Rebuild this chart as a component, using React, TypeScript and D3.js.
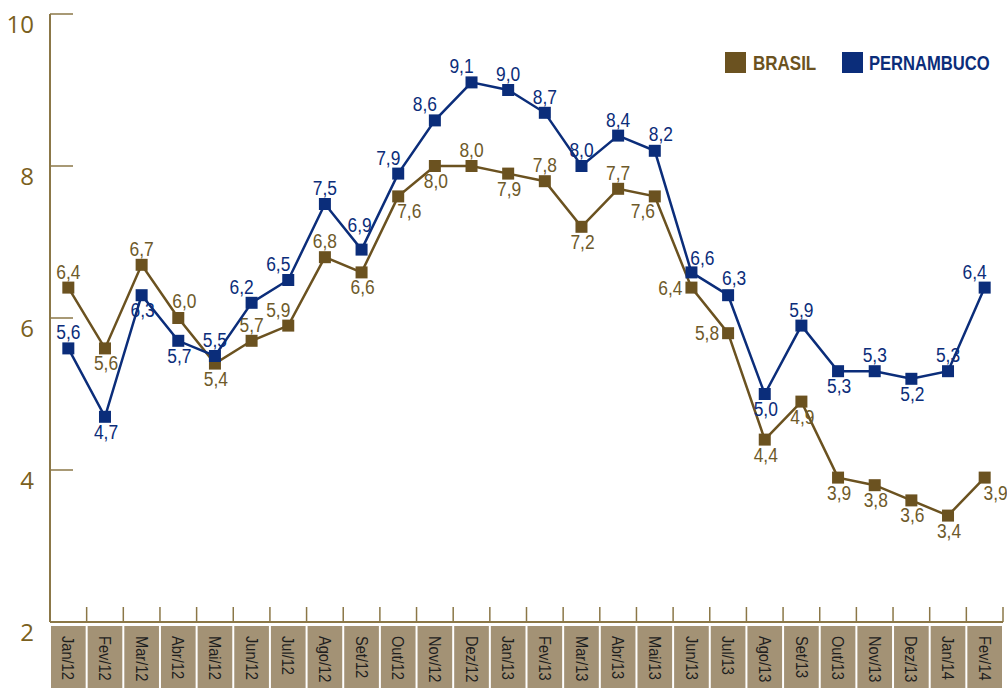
import React from "react";
import * as d3 from "d3";

const months = [
  "Jan/12", "Fev/12", "Mar/12", "Abr/12", "Mai/12", "Jun/12", "Jul/12", "Ago/12", "Set/12", "Out/12", "Nov/12", "Dez/12",
  "Jan/13", "Fev/13", "Mar/13", "Abr/13", "Mai/13", "Jun/13", "Jul/13", "Ago/13", "Set/13", "Out/13", "Nov/13", "Dez/13",
  "Jan/14", "Fev/14",
];

const brasil = [6.4, 5.6, 6.7, 6.0, 5.4, 5.7, 5.9, 6.8, 6.6, 7.6, 8.0, 8.0, 7.9, 7.8, 7.2, 7.7, 7.6, 6.4, 5.8, 4.4, 4.9, 3.9, 3.8, 3.6, 3.4, 3.9];
const pernambuco = [5.6, 4.7, 6.3, 5.7, 5.5, 6.2, 6.5, 7.5, 6.9, 7.9, 8.6, 9.1, 9.0, 8.7, 8.0, 8.4, 8.2, 6.6, 6.3, 5.0, 5.9, 5.3, 5.3, 5.2, 5.3, 6.4];

const yTicks = [2, 4, 6, 8, 10];

// where each value label sits relative to its marker
const brasilLabelPos = [
  "t", "b", "t", "tr", "b", "t", "tl", "t", "b", "br", "b", "t",
  "b", "t", "b", "t", "bl", "l", "l", "b", "b", "b", "b", "b",
  "b", "br",
];
const pernambucoLabelPos = [
  "t", "b", "b", "b", "t", "tl", "tl", "t", "tt", "tl", "tl", "tl",
  "t", "t", "t", "t", "tr", "rt", "tr", "b", "t", "b", "t", "b",
  "t", "tl",
];

const W = 1007;
const H = 688;
const left = 50;
const right = 1003;
const axisY = 622;

const BROWN = "#6b5220";
const BROWN_TEXT = "#6e5a2a";
const BLUE = "#0b2d7a";
const AXIS = "#8b7747";
const BOX = "#a39275";
const SANS = "'Liberation Sans', Arial, sans-serif";

const fmt = (v: number) => v.toFixed(1).replace(".", ",");

function labelOffset(pos: string): { dx: number; dy: number; anchor: string } {
  switch (pos) {
    case "t": return { dx: 0, dy: -9, anchor: "middle" };
    case "tt": return { dx: -2, dy: -18, anchor: "middle" };
    case "b": return { dx: 1, dy: 22, anchor: "middle" };
    case "tr": return { dx: 6, dy: -10, anchor: "middle" };
    case "rt": return { dx: 11, dy: -7, anchor: "middle" };
    case "tl": return { dx: -10, dy: -9, anchor: "middle" };
    case "br": return { dx: 11, dy: 22, anchor: "middle" };
    case "bl": return { dx: -12, dy: 22, anchor: "middle" };
    case "l": return { dx: -9, dy: 7, anchor: "end" };
    default: return { dx: 0, dy: -9, anchor: "middle" };
  }
}

export default function App() {
  const x = d3.scaleBand<string>().domain(months).range([left, right]).paddingInner(0).paddingOuter(0);
  const y = d3.scaleLinear().domain([2, 10]).range([axisY, 14]);
  const cx = (i: number) => (x(months[i]) as number) + x.bandwidth() / 2;

  const line = d3
    .line<number>()
    .x((_, i) => cx(i))
    .y((d) => y(d));

  const series = [
    { name: "BRASIL", values: brasil, color: BROWN, text: BROWN_TEXT, pos: brasilLabelPos },
    { name: "PERNAMBUCO", values: pernambuco, color: BLUE, text: BLUE, pos: pernambucoLabelPos },
  ];

  return (
    <svg
      width={W}
      height={H}
      style={{ position: "absolute", left: 0, top: 0, background: "#fff" }}
    >
      {/* month boxes */}
      {months.map((m) => {
        const bx = x(m) as number;
        const bw = x.bandwidth();
        return (
          <g key={m}>
            <rect x={bx + 1} y={626} width={bw - 2} height={H - 626} fill={BOX} />
            <text
              transform={`translate(${bx + bw / 2},${636}) rotate(90) scale(0.86,1)`}
              fontFamily={SANS}
              fontSize={17}
              fill="#1e1e1e"
              dominantBaseline="central"
            >
              {m}
            </text>
          </g>
        );
      })}

      {/* axes */}
      <line x1={left} x2={left} y1={y(10)} y2={axisY} stroke={AXIS} strokeWidth={2} />
      <line x1={left} x2={right} y1={axisY} y2={axisY} stroke={AXIS} strokeWidth={2} />
      {yTicks.filter((t) => t > 2).map((t) => (
        <line key={t} x1={left} x2={left + 23} y1={y(t)} y2={y(t)} stroke={AXIS} strokeWidth={1.5} />
      ))}
      {months.map((m) => {
        const bx = (x(m) as number) + x.bandwidth();
        return <line key={m} x1={bx} x2={bx} y1={607} y2={axisY} stroke={AXIS} strokeWidth={1.5} />;
      })}
      {yTicks.map((t) => (
        <text
          key={t}
          x={34}
          y={y(t) + 9}
          textAnchor="end"
          dominantBaseline="central"
          fontFamily="'Open Sans', 'Noto Sans', sans-serif"
          fontSize={24}
          fill="#7a6020"
        >
          {t}
        </text>
      ))}

      {/* series */}
      {series.map((s) => (
        <g key={s.name}>
          <path d={line(s.values) ?? ""} fill="none" stroke={s.color} strokeWidth={2.5} />
          {s.values.map((v, i) => (
            <rect key={i} x={cx(i) - 6} y={y(v) - 6} width={12} height={12} fill={s.color} />
          ))}
          {s.values.map((v, i) => {
            const o = labelOffset(s.pos[i]);
            return (
              <text
                key={"l" + i}
                transform={`translate(${cx(i) + o.dx},${y(v) + o.dy}) scale(0.87,1)`}
                textAnchor={o.anchor}
                fontFamily={SANS}
                fontSize={20}
                fill={s.text}
              >
                {fmt(v)}
              </text>
            );
          })}
        </g>
      ))}

      {/* legend */}
      <g>
        <rect x={725} y={52} width={21} height={21} fill={BROWN} />
        <text
          transform="translate(753,69.5) scale(0.85,1)"
          fontFamily={SANS}
          fontWeight="bold"
          fontSize={20}
          fill={BROWN}
        >
          BRASIL
        </text>
        <rect x={842} y={52} width={21} height={21} fill={BLUE} />
        <text
          transform="translate(869,69.5) scale(0.83,1)"
          fontFamily={SANS}
          fontWeight="bold"
          fontSize={20}
          fill={BLUE}
        >
          PERNAMBUCO
        </text>
      </g>
    </svg>
  );
}
